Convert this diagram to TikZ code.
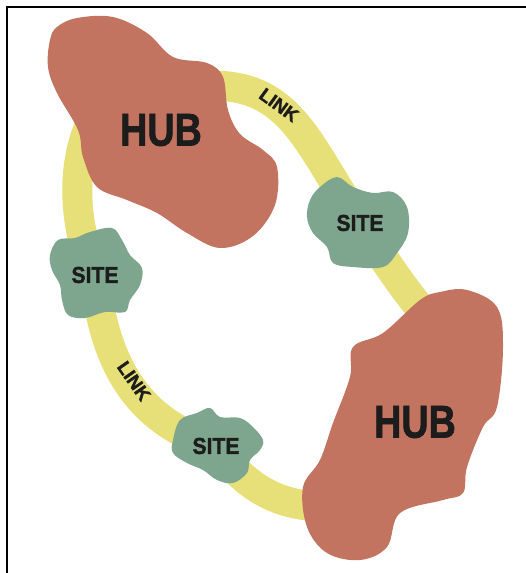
\documentclass[tikz,border=0pt]{standalone}
\usepackage{fontspec}
\setmainfont{Liberation Sans}
\newfontfamily\heavyfont{Liberation Sans}[BoldFeatures={FakeBold=1.6}]
\definecolor{hubfill}{RGB}{195,116,96}
\definecolor{sitefill}{RGB}{126,166,142}
\definecolor{linkfill}{RGB}{231,224,120}
\definecolor{ink}{RGB}{28,28,28}
\tikzset{
  linkband/.style={draw=linkfill, line width=30pt, line cap=round},
  hubblob/.style={fill=hubfill},
  siteblob/.style={fill=sitefill},
  hublabel/.style={text=ink, font=\heavyfont\bfseries\fontsize{46}{46}\selectfont, inner sep=0pt},
  sitelabel/.style={text=ink, font=\heavyfont\bfseries\fontsize{23}{23}\selectfont, inner sep=0pt},
  linklabel/.style={text=ink, font=\heavyfont\bfseries\fontsize{18.5}{18.5}\selectfont, inner sep=0pt},
}
\begin{document}
\begin{tikzpicture}[x=1pt,y=-1pt]
\useasboundingbox (0,0) rectangle (526,573);
\fill[white] (0,0) rectangle (526,573);
% anchor coordinates
\coordinate (hub1) at (161,130);
\coordinate (hub1ne) at (200,86);
\coordinate (hub1w) at (90,125);
\coordinate (hub2) at (415,422);
\coordinate (hub2nw) at (430,320);
\coordinate (hub2sw) at (350,505);
\coordinate (siteA) at (360,223);
\coordinate (siteB) at (95,275);
\coordinate (siteC) at (216,446);
% links
\draw[linkband] (hub1ne) .. controls (290,80) and (305,140) .. (siteA);
\draw[linkband] (siteA) .. controls (385,260) and (400,285) .. (hub2nw);
\draw[linkband] (hub2sw) .. controls (290,512) and (250,495) .. (siteC);
\draw[linkband] (siteC) .. controls (150,425) and (105,380) .. (siteB);
\draw[linkband] (siteB) .. controls (75,230) and (70,170) .. (hub1w);
% hubs
\fill[hubblob] plot[smooth cycle, tension=0.6] coordinates {
 (50,40) (48,67) (57,93) (78,130) (83,157) (97,187) (127,200) (157,213)
 (187,233) (220,248) (253,236) (275,205) (277,167) (263,150) (240,134)
 (228,110) (223,77) (207,63) (173,57) (147,33) (113,17) (77,18) (57,27)};
\fill[hubblob] plot[smooth cycle, tension=0.6] coordinates {
 (467,290) (497,307) (503,347) (497,407) (483,427) (467,467) (463,493)
 (443,500) (400,513) (387,547) (360,560) (327,553) (307,527) (303,487)
 (320,460) (333,423) (350,377) (353,347) (383,333) (420,300) (440,292)};
% sites
\fill[siteblob] plot[smooth cycle, tension=0.6] coordinates {
 (310,200) (320,187) (337,177) (353,187) (373,193) (393,192) (407,207)
 (408,233) (397,253) (383,267) (353,267) (333,263) (327,247) (313,233) (307,217)};
\fill[siteblob] plot[smooth cycle, tension=0.6] coordinates {
 (50,255) (58,240) (75,238) (90,232) (112,228) (122,240) (130,255) (142,268)
 (140,285) (130,300) (125,312) (105,312) (85,318) (68,315) (62,300) (60,285) (52,270)};
\fill[siteblob] plot[smooth cycle, tension=0.6] coordinates {
 (173,440) (180,420) (197,413) (210,408) (220,417) (240,418) (253,427)
 (263,440) (260,450) (250,460) (247,473) (233,483) (217,480) (203,470)
 (187,463) (173,453)};
% labels
\node[hublabel] (hubtext1) at (hub1) {\scalebox{0.82}[1]{HUB}};
\node[hublabel] (hubtext2) at (hub2) {\scalebox{0.82}[1]{HUB}};
\node[sitelabel] (sitetextA) at (siteA) {\scalebox{0.92}[1]{SITE}};
\node[sitelabel] (sitetextB) at (siteB) {\scalebox{0.92}[1]{SITE}};
\node[sitelabel] (sitetextC) at (siteC) {\scalebox{0.92}[1]{SITE}};
\node[linklabel, rotate=-36] (linktext1) at (279,105) {LINK};
\node[linklabel, rotate=-55] (linktext2) at (134,381) {LINK};
% frame
\draw[line width=2.6pt, black] (7,573) -- (7,7) -- (526,7);
\end{tikzpicture}
\end{document}
